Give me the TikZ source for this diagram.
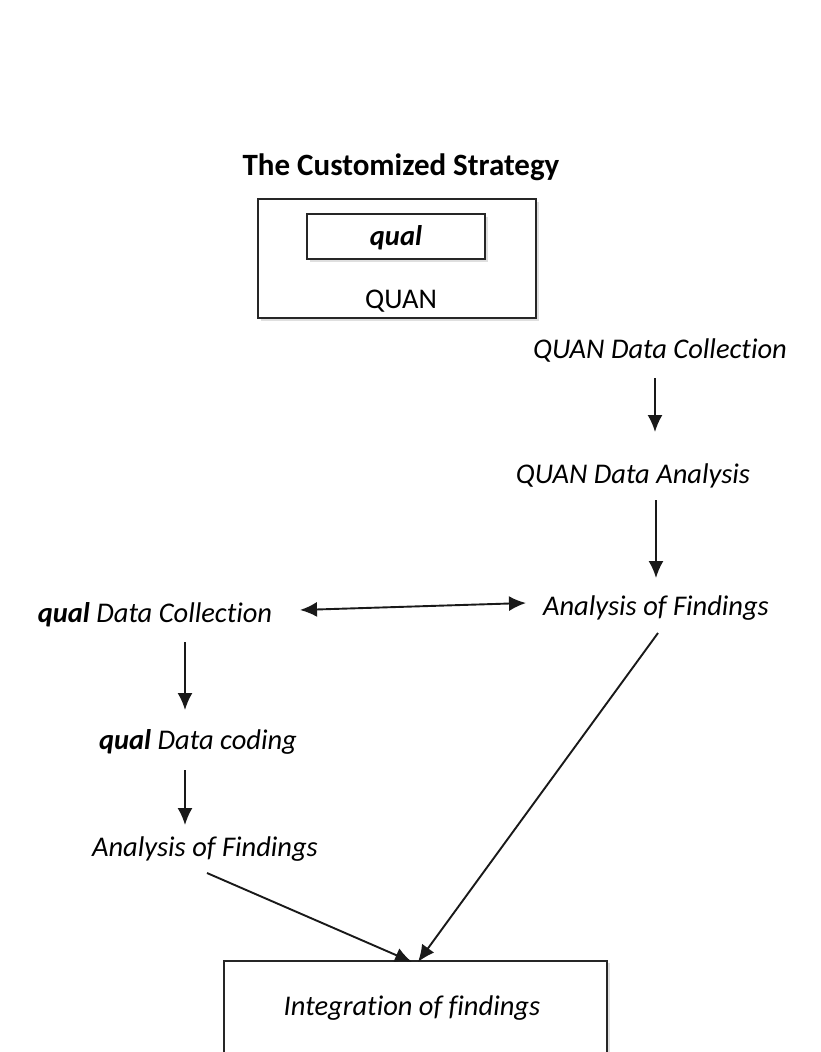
\documentclass[tikz,border=0pt]{standalone}
\usepackage{fontspec}
\setmainfont{Carlito}[Ligatures={NoCommon}]
\usetikzlibrary{arrows.meta,calc,shadows}
\begin{document}
\begin{tikzpicture}[x=1pt,y=-1pt,
  lbl/.style={font=\fontsize{28.5}{32}\selectfont\itshape, inner sep=0pt},
  ttl/.style={font=\fontsize{31}{36}\selectfont\bfseries, inner sep=0pt},
  frame/.style={draw=black!85, line width=1.6pt, fill=white, inner sep=0pt,
    drop shadow={opacity=0.25, shadow xshift=2.5pt, shadow yshift=-2.5pt}},
  tip/.tip={Latex[length=17pt,width=15pt]},
  arr/.style={draw=black!90, line width=1.9pt, -tip},
  darr/.style={draw=black!90, line width=1.9pt, tip-tip}]
\useasboundingbox (0,0) rectangle (820,1052);
\clip (0,0) rectangle (820,1052);
\fill[white] (0,0) rectangle (820,1052);
% title and nested boxes
\node[ttl] (title) at (401,167) {The Customized Strategy};
\node[frame, minimum width=278pt, minimum height=119pt] (outer) at (397,258.5) {};
\node[frame, minimum width=178pt, minimum height=45pt] (inner) at (396,236.5) {};
\node[lbl, font=\fontsize{28.5}{32}\selectfont\bfseries\itshape] (qual) at (396,238) {qual};
\node[lbl, font=\fontsize{28.5}{32}\selectfont\upshape] (quan) at (401,301) {QUAN};
% right column
\node[lbl] (qdc) at (660,350) {QUAN Data Collection};
\node[lbl] (qda) at (633,476) {QUAN Data Analysis};
\node[lbl] (af1) at (656,608) {Analysis of Findings};
% left column
\node[lbl] (ldc) at (155,615) {\textbf{qual} Data Collection};
\node[lbl] (ldco) at (198,742) {\textbf{qual} Data coding};
\node[lbl] (af2) at (205,849) {Analysis of Findings};
% integration box
\node[frame, anchor=north, minimum width=383pt, minimum height=130pt] (integbox) at (415.5,960) {};
\node[lbl] (integ) at (412,1008) {Integration of findings};
% connectors
\draw[arr] ($(qdc.center)+(-5,28)$) -- ($(qda.center)+(22,-44)$);
\draw[arr] ($(qda.center)+(23,24)$) -- ($(af1.center)+(0,-30)$);
\draw[darr] ($(ldc.center)+(145,-5)$) -- ($(af1.center)+(-130,-5)$);
\draw[arr] ($(ldc.center)+(30,27)$) -- ($(ldco.center)+(-13,-32)$);
\draw[arr] ($(ldco.center)+(-13,28)$) -- ($(af2.center)+(-20,-24)$);
\draw[arr] ($(af2.center)+(2,24)$) -- ($(integbox.north)+(-3.5,2)$);
\draw[arr] ($(af1.center)+(2,25)$) -- ($(integbox.north)+(2.5,2)$);
\end{tikzpicture}
\end{document}
